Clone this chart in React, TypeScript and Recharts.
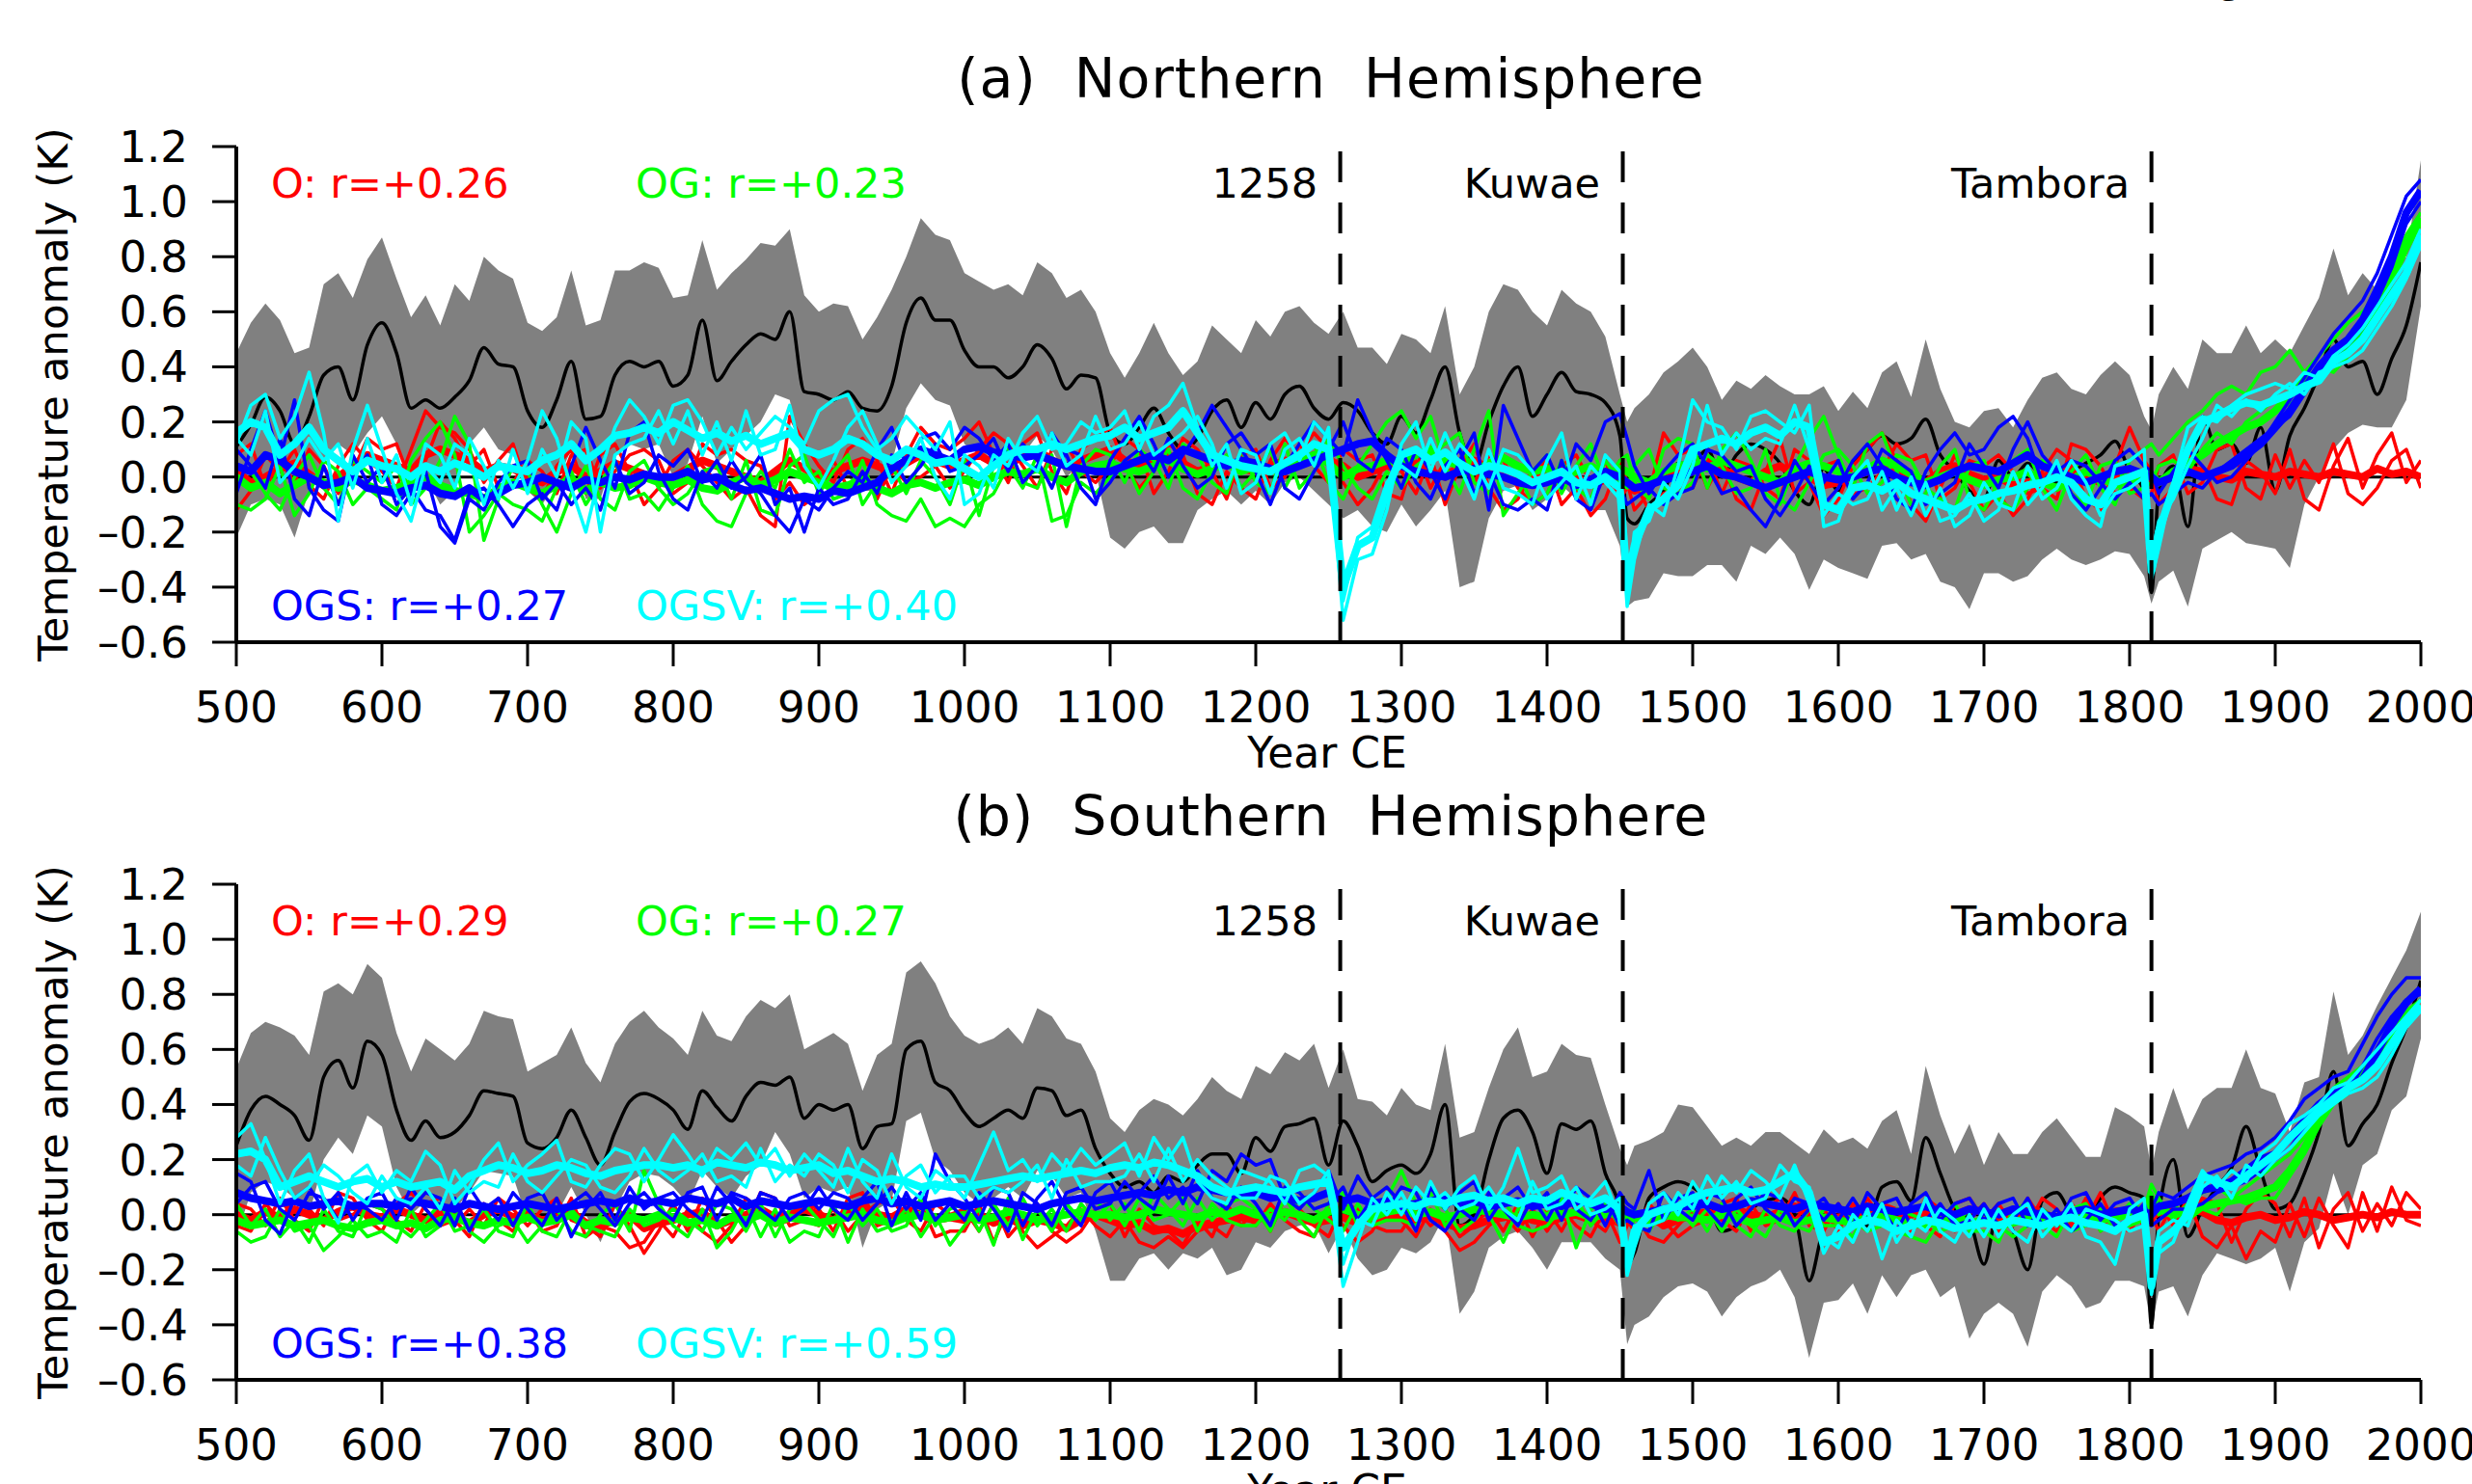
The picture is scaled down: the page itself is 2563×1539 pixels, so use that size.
import React from 'react';
import { ComposedChart, Area, Line, XAxis, YAxis, ReferenceLine } from 'recharts';

// ---------- categories ----------
const YEARS = [
  500, 510, 520, 530, 540, 550, 560, 570, 580, 590,
  600, 610, 620, 630, 640, 650, 660, 670, 680, 690,
  700, 710, 720, 730, 740, 750, 760, 770, 780, 790,
  800, 810, 820, 830, 840, 850, 860, 870, 880, 890,
  900, 910, 920, 930, 940, 950, 960, 970, 980, 990,
  1000, 1010, 1020, 1030, 1040, 1050, 1060, 1070, 1080, 1090,
  1100, 1110, 1120, 1130, 1140, 1150, 1160, 1170, 1180, 1190,
  1200, 1210, 1220, 1230, 1240, 1250, 1260, 1270, 1280, 1290,
  1300, 1310, 1320, 1330, 1340, 1350, 1360, 1370, 1380, 1390,
  1400, 1410, 1420, 1430, 1440, 1450, 1455, 1460, 1470, 1480, 1490,
  1500, 1510, 1520, 1530, 1540, 1550, 1560, 1570, 1580, 1590,
  1600, 1610, 1620, 1630, 1640, 1650, 1660, 1670, 1680, 1690,
  1700, 1710, 1720, 1730, 1740, 1750, 1760, 1770, 1780, 1790,
  1800, 1810, 1815, 1820, 1830, 1840, 1850, 1860, 1870, 1880, 1890,
  1900, 1910, 1920, 1930, 1940, 1950, 1960, 1970, 1980, 1990,
  2000,
];
const X_TICKS = [500, 600, 700, 800, 900, 1000, 1100, 1200, 1300, 1400, 1500, 1600, 1700, 1800, 1900, 2000];
const Y_TICKS = [-0.6, -0.4, -0.2, 0, 0.2, 0.4, 0.6, 0.8, 1.0, 1.2];
const ERUPTIONS = [1258, 1452, 1815];
const ERUPTION_LABELS = ['1258', 'Kuwae', 'Tambora'];

// ---------- (a) Northern Hemisphere, values in hundredths of K ----------
const NH_BLACK = [
  11, 19, 29, 24, 12, 22, 37, 40, 28, 48,
  56, 45, 25, 28, 25, 29, 35, 47, 41, 40,
  24, 18, 28, 42, 21, 22, 37, 42, 40, 42,
  33, 37, 57, 35, 42, 48, 52, 50, 60, 31,
  30, 28, 31, 25, 24, 33, 56, 65, 57, 57,
  46, 40, 40, 36, 40, 48, 43, 32, 37, 36,
  16, 12, 18, 25, 16, 10, 14, 24, 28, 18,
  27, 21, 30, 33, 25, 21, 27, 24, 16, 12,
  22, 16, 28, 40, 16, 4, 20, 33, 40, 22,
  30, 38, 31, 30, 27, 15, -15, -17, -10, -5, 5,
  5, 10, 0, 8, 12, 10, 5, -5, -10, 3,
  -5, 5, 10, 15, 12, 14, 21, 8, 2, -5,
  -8, 6, 0, 5, 0, -2, 2, 5, 8, 13,
  2, -5, -42, -5, 4, -18, 22, 10, 12, 5, 18,
  -5, 15, 25, 37, 50, 40, 42, 30, 43, 55,
  78,
];
const NH_UPPER = [
  45, 56, 63, 57, 45, 47, 70, 74, 65, 79,
  87, 72, 58, 66, 55, 70, 64, 80, 75, 72,
  56, 53, 58, 75, 55, 57, 75, 75, 78, 76,
  65, 66, 86, 68, 74, 79, 85, 84, 90, 66,
  60, 63, 62, 50, 58, 68, 80, 94, 88, 86,
  74, 71, 68, 70, 66, 78, 74, 65, 68, 60,
  45, 36, 45, 56, 45, 37, 42, 55, 50, 45,
  57, 51, 60, 62, 56, 52, 60, 47, 47, 41,
  52, 50, 45, 62, 30, 40, 60, 70, 68, 60,
  55, 68, 63, 60, 51, 30, 20, 25, 30, 38, 42,
  47, 40, 28, 35, 32, 37, 33, 30, 30, 33,
  24, 31, 25, 38, 42, 29, 50, 32, 20, 18,
  24, 25, 18, 28, 36, 38, 32, 30, 37, 42,
  37, 22, 17, 30, 40, 32, 50, 45, 45, 55, 45,
  50, 45, 55, 65, 83, 66, 74, 68, 74, 80,
  115,
];
const NH_LOWER = [
  -22, -10, -8, -10, -22, -5, 5, 12, 8, 16,
  22, 12, -5, 0, -10, -5, 12, 18, 10, 8,
  -5, -10, -2, 10, -8, -8, 8, 12, 10, 12,
  0, 5, 22, 5, 10, 15, 20, 30, 28, 2,
  0, -3, 0, -5, -5, 5, 25, 34, 28, 26,
  12, 8, 8, 5, 8, 15, 10, 0, 5, 2,
  -22, -26, -20, -18, -24, -24, -12, -8, -5, -10,
  -5, -10, -2, 0, -5, -10, -15, -12, -18, -20,
  -10, -18, -12, -5, -40, -38, -15, -5, -3, -12,
  -8, -3, -8, -12, -12, -25, -47, -45, -44, -35, -36,
  -36, -32, -32, -38, -25, -28, -22, -28, -41, -30,
  -33, -35, -37, -25, -24, -30, -28, -38, -40, -48,
  -35, -35, -38, -36, -30, -26, -30, -32, -30, -27,
  -28, -36, -46, -38, -34, -47, -26, -23, -20, -24, -25,
  -26, -33, -10, 0, 10, 16, 19, 18, 18, 28,
  62,
];
const NH_RED_M = [
  2, -2, 0, 3, 5, 1, -3, 0, 4, 8,
  6, 4, 2, 8, 10, 8, 6, 2, 4, 3,
  0, -2, 2, 4, 0, 2, 5, 3, 1, -1,
  0, 3, 6, 4, 2, 0, -2, 2, 6, 3,
  0, 2, 4, 6, 4, 2, 5, 8, 6, 4,
  6, 8, 5, 4, 8, 10, 6, 4, 6, 8,
  10, 6, 4, 6, 8, 5, 2, 4, 6, 3,
  2, 4, 6, 5, 8, 6, 4, 0, 2, 4,
  3, 5, 2, 0, 4, 6, 3, 1, -2, 0,
  2, -2, 0, -3, -1, 0, -2, -5, -2, 0, 3,
  2, 5, 3, 0, -2, 2, 4, 1, 0, -3,
  -2, 0, 2, 5, 3, 0, -2, 2, 4, 1,
  -1, 0, -3, -2, 0, 2, 3, 0, -2, 0,
  2, 0, -1, -2, 0, 3, 2, 0, -1, 2, 1,
  0, 2, 1, 0, 2, 1, 0, 3, 1, 2,
  0,
];
const NH_RED_1 = [
  -12, -5, 8, 2, 10, -3, -8, 4, 12, 6,
  2, -4, 10, 24, 18, 16, 10, -2, 6, 12,
  -4, -8, 4, 10, -6, 8, 12, 2, -10, -4,
  6, 10, 4, -2, -8, -4, -14, -18, 22, 12,
  4, -2, 10, 14, 6, -6, 8, 18, 12, 10,
  14, 20, 8, -2, 12, 16, 2, -6, 10, 14,
  18, 4, -4, 2, 12, 8, -6, -10, 2, -4,
  -8, 6, 14, 8, 16, 10, -2, -10, -4, 6,
  2, -6, 8, -10, 4, 12, -4, -12, -8, 2,
  6, -10, -4, -14, -8, 6, -2, -12, -6, 16, 8,
  10, -4, 6, -8, -12, 2, 14, -6, -2, -14,
  -8, 4, 10, 16, 6, -10, -16, -4, 8, -2,
  -12, -6, -14, -8, 2, 10, 6, -8, -12, 4,
  18, 6, 2, -10, -4, 8, 4, -8, -10, 6, 2,
  -6, 10, -8, -12, 4, 14, -4, 8, 16, -2,
  6,
];
const NH_RED_2 = [
  8, 12, -4, 6, -2, 10, 4, -6, 2, 14,
  10, 12, -2, 6, 20, 14, 4, 10, -4, -2,
  6, 2, -6, 8, 10, -4, 2, 8, 10, 6,
  -6, -2, 12, 8, 10, 6, 4, -8, -2, -10,
  -6, 6, -4, 2, -8, 4, -2, 0, 4, -4,
  2, 10, 16, 12, 4, -4, 10, 12, 2, -2,
  4, 14, 10, -6, 2, 14, 10, 2, -8, 8,
  10, -4, 0, 12, 4, -2, 10, 6, 8, -6,
  -8, 10, -4, 6, 10, -2, 8, 6, -4, -10,
  -6, 4, 8, -2, 6, -8, -4, -2, -12, -6, -4,
  -4, 8, -6, 6, 4, -4, -8, 10, 6, 4,
  6, -6, -4, 2, 12, 6, 8, -8, -4, 6,
  4, 8, 2, -6, -4, -8, 12, 10, 4, -6,
  -4, -8, -6, 4, 8, -6, -2, 10, 12, -4, -8,
  8, -4, 6, -2, 12, -6, -10, -4, 6, 10,
  -4,
];
const NH_GREEN_M = [
  0, -4, -2, -6, -3, 0, -2, -4, -1, -3,
  -5, -4, -2, 0, -3, -5, -6, -8, -4, -2,
  -4, -6, -3, -1, -5, -2, -4, -3, 0, -2,
  -3, -1, -4, -5, -2, 0, -3, -1, 2, 0,
  -2, -4, -3, -1, -4, -6, -3, -2, -4, -2,
  -1, -3, 0, 2, 1, 3, 0, -2, 2, 4,
  5, 3, 2, 4, 6, 3, 1, 3, 5, 2,
  4, 2, 5, 6, 8, 5, 0, 3, 4, 6,
  5, 8, 10, 6, 4, 2, 5, 7, 4, 2,
  3, 0, 2, 4, 1, 3, 2, 0, -2, 2, 4,
  5, 3, 6, 4, 2, 0, -2, 3, 5, 4,
  2, 0, 3, 6, 4, 1, -2, 0, 2, -1,
  -3, -1, 0, 2, -2, -4, -1, 2, 0, -3,
  -1, 0, 1, -2, 2, 5, 8, 12, 15, 18, 20,
  24, 30, 36, 38, 42, 48, 55, 62, 72, 84,
  94,
];
const NH_GREEN_1 = [
  -10, -12, -8, 4, -14, -6, 6, 2, -10, -4,
  -8, -12, 6, 14, 20, 8, -20, -14, -6, -10,
  -12, -16, -4, 2, -10, -2, 6, -8, -6, -12,
  -4, 4, -10, -16, -18, -6, 2, -4, 10, -2,
  2, -8, -6, 6, -10, -14, -16, -8, -18, -15,
  -18, -10, -6, 4, -4, 8, -16, -14, -2, -6,
  0, 6, -6, 2, 10, -4, -8, 2, 8, -4,
  2, 10, -4, 6, 12, -2, -8, 4, 12, 20,
  24, 14, 22, 4, -6, 10, 24, -14, -6, 2,
  8, -6, 4, 12, -2, 6, 8, -2, -8, 10, 14,
  12, -4, 10, 16, 6, -6, -10, 4, 14, 22,
  8, -4, 12, 16, 2, -10, -6, 4, 10, -8,
  -12, -2, 6, 10, -4, -12, 2, 8, -4, -10,
  6, 10, 12, 8, 14, 20, 24, 30, 33, 30, 38,
  40, 46, 38, 44, 50, 56, 60, 66, 76, 88,
  96,
];
const NH_GREEN_2 = [
  4, 2, -6, -12, 0, 8, -4, -10, 6, 2,
  -2, 4, -10, -4, 6, 22, 12, -23, -8, 4,
  2, -10, -20, -6, 4, -8, -12, 2, 6, -4,
  -10, -6, 2, 4, -8, 6, -12, -14, 4, 8,
  -6, 2, 8, -10, -2, 4, -6, 6, 0, -10,
  6, -14, 4, 10, -2, -4, 8, -18, 4, 10,
  8, -2, 10, 6, -4, 12, 8, -2, -6, 10,
  -2, -6, 12, -4, 2, 14, 4, -4, -8, 2,
  -4, 4, 8, 12, 16, -2, -6, 8, 2, -10,
  -6, 6, -4, -8, 6, -2, -4, 4, 10, -4, -6,
  -2, 8, 4, -6, -4, 10, -8, -12, -2, 8,
  10, 4, -6, -2, 8, 6, -4, -8, -12, 4,
  6, -8, -12, -4, 6, 2, -6, -10, 4, 6,
  -6, -4, -2, 4, 6, 2, 10, 16, 12, 20, 24,
  28, 26, 32, 40, 38, 44, 52, 60, 70, 82,
  92,
];
const NH_BLUE_M = [
  4, 2, 8, 6, 2, 0, -3, -2, 0, -4,
  -5, -6, -4, -3, -6, -7, -4, -8, -6, -3,
  -2, 0, -2, -4, -1, -2, 0, -1, 1, 0,
  0, 2, -1, 0, -3, -5, -4, -6, -8, -7,
  -8, -5, -6, -4, -2, 3, 6, 10, 8, 6,
  10, 11, 9, 8, 7, 8, 6, 4, 3, 2,
  2, 4, 6, 8, 6, 10, 8, 6, 4, 6,
  5, 3, 2, 4, 6, 8, 10, 12, 13, 8,
  4, 2, 1, 0, 2, 3, 1, 0, -2, -3,
  -2, 0, -3, -1, 2, 0, -2, -4, -3, -1, 0,
  2, 4, 1, 0, -2, -4, -2, 0, 2, 0,
  -1, 0, 2, 3, 0, -2, -3, -1, 2, 4,
  3, 2, 5, 8, 4, 2, 0, -2, 0, 2,
  3, 1, 0, -2, 0, 2, 0, 2, 4, 8, 12,
  18, 24, 32, 40, 46, 50, 57, 68, 80, 96,
  104,
];
const NH_BLUE_1 = [
  -6, 10, 24, 6, 28, -4, -12, -16, 8, -2,
  4, -10, -4, -12, -14, -23, -6, -4, -10, -18,
  -10, -6, -12, 4, 18, 6, -4, 16, 20, 2,
  -8, -12, 2, -4, 6, -2, -6, -14, -20, -8,
  -12, -4, 2, -2, 10, 18, 4, 14, 16, 10,
  18, 14, 6, 12, -2, 4, 16, 8, -4, -10,
  6, 14, 22, 12, 0, 8, 16, 26, 18, 10,
  2, -10, 4, 12, 20, 14, 8, 28, 16, 6,
  -4, 10, 2, -8, 6, 16, -12, 26, 14, 2,
  8, -4, 12, 6, 20, 23, 14, 4, -6, 2, 8,
  12, 4, -6, -4, -12, -18, -8, 6, -2, -10,
  -4, 6, 12, 4, -8, -12, 2, 10, 16, 8,
  10, 18, 22, 14, -2, 4, -6, -12, -4, 6,
  10, 4, 2, -6, 2, 10, 4, -2, 0, 6, 12,
  20, 28, 36, 44, 52, 58, 64, 74, 88, 102,
  108,
];
const NH_BLUE_2 = [
  10, 4, -4, 14, -8, -14, 4, -10, 2, 8,
  -10, -14, -6, 2, -18, -24, -8, -12, -2, 4,
  6, -8, -2, -10, -4, -12, 6, -6, -2, 8,
  4, 10, -2, 6, -4, 0, 8, -10, -4, -20,
  -4, -10, -8, 2, -6, 8, -2, 4, 12, 2,
  4, 8, 14, 2, 12, 6, -4, 10, 8, -8,
  -2, 6, 10, 2, 14, 4, -4, 0, 12, 16,
  8, 12, -4, -8, 2, 10, 20, 6, 2, 14,
  10, -2, -8, 4, 10, -6, 2, -10, -12, -8,
  -12, 6, -8, -12, 2, -4, -10, -8, -4, -10, -6,
  -4, 10, 8, 2, 4, -8, -14, -6, 4, -2,
  6, -8, -2, 10, 6, 2, -10, -6, -2, 12,
  4, -4, 10, 20, 8, 2, 6, 4, -2, -8,
  -2, -8, -6, -10, -6, -2, -4, 2, 6, 10, 14,
  18, 22, 30, 38, 44, 48, 54, 64, 76, 92,
  100,
];
const NH_CYAN_M = [
  16, 20, 18, 8, 12, 18, 10, 6, 2, 6,
  4, 3, 0, 4, 2, 5, 3, 0, 4, 3,
  2, 6, 8, 12, 6, 10, 15, 16, 18, 16,
  20, 17, 14, 16, 13, 15, 12, 14, 16, 10,
  8, 10, 14, 12, 8, 6, 10, 8, 5, 6,
  3, 0, 4, 8, 10, 10, 12, 10, 12, 14,
  15, 18, 14, 16, 18, 24, 16, 8, 6, 4,
  3, 2, 5, 8, 12, 10, -40, -25, -22, -5,
  8, 10, 6, 9, 5, 2, 4, 3, 1, -2,
  0, 2, -2, -3, 0, -4, -38, -25, -12, -8, -3,
  10, 12, 14, 12, 16, 18, 15, 20, 18, -10,
  -12, -4, -3, -5, -2, -6, -8, -10, -12, -9,
  -8, -6, -5, -3, -2, 0, -2, -8, -10, -2,
  0, 2, -34, -20, -4, 10, 20, 22, 25, 27, 26,
  28, 30, 33, 35, 42, 45, 50, 58, 66, 74,
  88,
];
const NH_CYAN_1 = [
  12, 26, 30, 14, 22, 38, 16, -16, 10, 26,
  10, -6, -16, 4, -2, 12, 8, -10, 6, -4,
  6, 24, 14, -4, -20, 2, 18, 28, 22, 12,
  26, 28, 20, 8, 18, 10, 16, 22, 18, 12,
  24, 28, 30, 18, 10, 14, 22, 16, 10, 20,
  -10, -6, 8, 4, 16, 22, 10, 12, 20, 16,
  18, 24, 10, 22, 26, 34, 18, 4, 12, -6,
  -2, 12, 16, 6, 20, 14, -52, -30, -28, -12,
  12, 20, 2, 16, 4, -8, 10, -4, -6, -10,
  6, 16, -8, 4, -2, -8, -47, -30, -10, -14, 4,
  28, 20, 18, 10, 22, 24, 20, 16, 26, -18,
  -16, 0, 6, -12, -4, -14, -2, -16, -14, -6,
  -16, -12, 2, -10, -4, 6, -8, -14, -18, 4,
  6, 10, -37, -26, -2, 18, 22, 20, 26, 30, 32,
  34, 32, 38, 36, 44, 48, 54, 62, 70, 78,
  90,
];
const NH_CYAN_2 = [
  14, 8, 24, -2, 4, 14, 6, 12, -4, 14,
  -2, 8, -10, 12, 8, -4, 14, 4, -8, 10,
  -6, 10, 0, 20, 14, -20, 8, 12, 14, 24,
  12, 24, 8, 20, 6, 24, 8, 10, 26, 4,
  -4, 6, 18, 24, 12, -2, 4, 14, 0, -8,
  8, 4, -4, 14, 6, 2, 16, 4, 8, 22,
  10, 12, 20, 8, 12, 16, 22, 12, -4, 10,
  8, -6, 10, 14, 4, 18, -45, -22, -18, -2,
  4, 0, 14, 2, 12, 6, -4, 10, 8, 2,
  -8, -2, 4, -10, 8, 2, -42, -20, -16, -2, -8,
  4, 26, 8, 16, 10, 14, 12, 26, 10, -14,
  -6, -10, -8, 2, -12, 0, -14, -4, -18, -14,
  -2, -10, -12, 4, -8, -4, 6, -2, -14, -6,
  -4, 0, -30, -16, -8, 4, 14, 26, 22, 28, 24,
  30, 34, 30, 38, 40, 42, 46, 54, 62, 72,
  84,
];

// ---------- (b) Southern Hemisphere, values in hundredths of K ----------
const SH_BLACK = [
  25, 38, 43, 40, 36, 27, 50, 56, 46, 63,
  58, 38, 27, 34, 28, 30, 36, 45, 44, 43,
  26, 24, 28, 38, 28, 18, 30, 41, 44, 42,
  38, 31, 45, 39, 34, 43, 48, 47, 50, 35,
  40, 38, 40, 24, 32, 33, 60, 63, 48, 45,
  37, 32, 35, 38, 35, 46, 45, 36, 38, 24,
  15, 10, 12, 8, 14, 12, 18, 22, 22, 15,
  28, 23, 32, 33, 35, 18, 34, 25, 12, 16,
  18, 15, 22, 40, -4, 0, 20, 35, 38, 30,
  15, 33, 31, 34, 15, 2, -18, -14, 6, 10, 12,
  10, 5, -6, -4, 2, 5, 6, 0, -24, -5,
  0, -2, -4, 10, 12, 5, 28, 15, 2, -2,
  -18, 2, -6, -20, 5, 8, 0, -4, 6, 10,
  8, 6, -40, 0, 20, -8, 2, 10, 17, 32, 16,
  2, 4, 15, 30, 52, 25, 33, 40, 55, 68,
  85,
];
const SH_UPPER = [
  53, 66, 70, 68, 65, 58, 81, 84, 80, 91,
  86, 66, 52, 64, 60, 56, 62, 74, 72, 71,
  52, 55, 58, 68, 55, 48, 62, 70, 74, 68,
  64, 58, 74, 65, 63, 72, 78, 75, 80, 60,
  63, 66, 62, 45, 58, 62, 88, 92, 84, 72,
  65, 62, 64, 68, 62, 75, 72, 64, 62, 52,
  35, 30, 38, 42, 40, 36, 42, 50, 45, 42,
  54, 51, 59, 56, 62, 46, 60, 42, 41, 36,
  46, 40, 38, 62, 28, 30, 46, 60, 68, 50,
  52, 62, 58, 57, 40, 24, 18, 25, 27, 30, 40,
  39, 32, 25, 28, 25, 30, 30, 26, 22, 31,
  26, 28, 24, 34, 38, 22, 54, 36, 22, 33,
  18, 30, 22, 22, 30, 35, 28, 21, 21, 39,
  36, 32, 16, 30, 46, 31, 42, 46, 46, 60, 46,
  44, 30, 48, 50, 81, 58, 65, 76, 86, 96,
  110,
];
const SH_LOWER = [
  -8, 8, 12, 10, 6, 0, 20, 28, 22, 36,
  32, 10, 0, 5, 0, 2, 8, 16, 15, 14,
  -2, -4, 0, 10, 0, -10, 2, 12, 15, 14,
  10, 4, 16, 10, 6, 14, 18, 30, 22, 6,
  10, 8, 10, -12, 2, 5, 34, 37, 20, 16,
  8, 4, 6, 10, 6, 16, 14, 6, 8, -6,
  -24, -24, -16, -14, -20, -14, -16, -12, -22, -20,
  -10, -12, -6, -4, -3, -14, -4, -16, -22, -20,
  -12, -14, -10, 0, -36, -28, -12, -8, -6, -12,
  -20, -10, -10, -10, -16, -20, -47, -40, -37, -30, -26,
  -25, -28, -37, -30, -26, -24, -20, -30, -52, -32,
  -31, -25, -36, -22, -30, -22, -20, -30, -26, -45,
  -36, -32, -36, -48, -28, -22, -26, -34, -32, -24,
  -24, -26, -41, -28, -26, -37, -22, -14, -16, -18, -16,
  -12, -28, -10, -5, 15, 0, 18, 22, 38, 43,
  64,
];
const SH_RED_M = [
  0, -2, 1, -1, 2, 0, -2, 1, 3, 0,
  -1, 2, 0, -2, 1, -1, -3, 0, 2, -1,
  0, -2, -1, 1, -3, -4, -2, 0, -5, -3,
  -2, 0, 1, -4, -2, 0, 2, -1, 0, 2,
  0, -2, 1, 3, 0, -1, 2, 0, -2, -1,
  -2, 0, -3, -1, -4, -2, -3, -5, -2, 0,
  -2, -4, -3, -6, -5, -7, -4, -3, -2, -1,
  -2, 0, 1, -1, -3, -2, -1, -3, -2, 0,
  -1, -2, 0, -3, -5, -4, -2, -1, 0, -2,
  -3, -1, 0, -2, -1, -3, -2, -1, 0, -4, -2,
  0, 1, -1, 2, 0, -1, 1, 3, 0, -2,
  -1, 0, 2, 1, -2, 0, 1, -1, 0, 2,
  1, -1, 0, 2, 1, -2, 0, 1, 2, 0,
  -1, 0, -1, 1, 0, 2, 1, -2, -3, -1, 0,
  -2, -1, 1, 0, -2, -1, 0, -1, 1, 0,
  0,
];
const SH_RED_1 = [
  -4, -6, 4, -2, 6, 2, -4, 8, 6, -2,
  -6, 4, 8, 2, -4, -2, -8, 4, -2, -6,
  2, -6, -4, 6, -8, -4, -6, -12, -10, -2,
  -8, 2, -6, -10, -4, 6, 2, -4, -2, 4,
  2, -6, 6, 8, -4, -2, 0, 4, -8, -6,
  -6, 4, -10, 2, -6, -12, -8, -4, 2, -4,
  -8, -2, -10, -12, -8, -12, -6, -4, -8, 2,
  -4, 4, -2, -6, -8, 2, -4, -10, -6, 4,
  -2, -8, 2, -6, -13, -10, -4, 0, -6, 2,
  -6, 2, -4, -8, 2, -10, -4, 0, -8, -10, -4,
  2, 6, -2, -6, 4, -4, -2, 8, -4, -6,
  4, -4, 6, -2, -6, 2, -4, -8, 4, 6,
  -2, 4, -4, 6, -2, -6, 4, -2, 8, -4,
  -6, 2, -2, 4, -4, 6, -8, -12, -4, -16, -6,
  -10, 4, -8, 6, -4, -12, 8, -6, 10, -2,
  -4,
];
const SH_RED_2 = [
  4, 2, -4, 6, -2, -6, 6, -2, 0, 4,
  2, -2, -6, 4, 6, -4, 2, -4, 6, 2,
  -4, 2, 6, -2, -4, -8, 4, -4, -14, -6,
  4, -6, 6, -2, -10, -4, 8, 6, -4, -2,
  -4, 2, -6, 0, 4, 6, -2, -6, 4, 0,
  2, -6, 4, -8, -2, 4, -6, -10, -6, 2,
  4, -8, 2, -4, -6, -11, -2, -8, 4, -4,
  2, -6, 6, 2, -4, -8, 4, 2, -4, -6,
  -6, 2, -4, 0, -8, -4, 2, -6, 4, -8,
  2, -6, 4, -2, -6, 4, -2, -6, 4, -2, -8,
  -4, -2, 4, 6, -6, 2, 6, -2, 4, 2,
  -6, 4, -2, 4, 2, -6, 6, 2, -6, -2,
  4, -6, 2, -4, 6, 2, -4, 6, -6, 2,
  2, -4, 0, -6, 4, -2, 6, 4, -10, 2, 8,
  4, -8, 6, -12, 2, 8, -6, 4, -4, 8,
  2,
];
const SH_GREEN_M = [
  -2, -4, -3, -2, -4, -3, -2, -4, -5, -3,
  -2, -4, -3, -5, -2, -1, -3, -4, -2, -3,
  -1, -3, -2, 0, -4, -2, -3, -1, -2, 0,
  -1, -3, -2, -4, -1, -2, 0, -3, -1, -2,
  -3, -2, -1, 0, -2, -3, -1, 0, -2, -1,
  0, -2, -1, 1, 0, -2, -1, 0, 1, 0,
  0, -1, 0, 2, 1, 0, -1, 1, 0, 2,
  0, -1, 1, 0, -2, 1, 2, 0, -1, 1,
  2, 0, 1, -1, 0, 2, 1, 0, -1, 0,
  -1, 0, 1, -1, 0, 1, 0, -1, -2, 0, -1,
  -1, -2, 0, -1, -3, -2, -1, -3, -2, -1,
  -2, -3, -1, 0, -2, -3, -4, -2, -1, -3,
  -2, -4, -3, -1, -2, -3, -1, 0, -2, -1,
  0, 1, 6, 2, 0, 1, 3, 4, 5, 6, 8,
  10, 16, 24, 34, 44, 47, 52, 58, 66, 72,
  76,
];
const SH_GREEN_1 = [
  -6, -10, -8, 2, -6, -4, -13, -8, -2, -8,
  -6, -10, 2, -8, -4, 2, -6, -10, -4, -2,
  -10, -4, 2, -6, -8, 0, 4, -6, 16, 4,
  -4, -8, 2, -12, -6, 4, -8, 2, -10, -6,
  -8, 4, -10, 2, -6, -4, 2, -8, 0, -11,
  -4, 2, -11, 6, -9, 2, -6, 4, -2, 6,
  -2, 4, -6, 8, 2, -4, 6, -2, 4, 6,
  2, -6, 6, -2, -8, 4, 8, -4, 2, 6,
  16, 4, 8, -4, 2, 6, 0, -10, 2, 4,
  0, 6, -12, 2, 4, -4, 2, -4, -6, 2, -2,
  2, -6, 4, -4, -8, 2, -4, -6, 2, -4,
  -4, -8, 2, 4, -6, -8, -10, -2, 4, -6,
  -6, -10, 2, 4, -4, -8, 2, 4, -6, -2,
  4, 2, 11, 6, -2, 4, 8, 10, 6, 10, 14,
  18, 22, 28, 38, 46, 50, 54, 60, 68, 74,
  78,
];
const SH_GREEN_2 = [
  4, -4, 2, -8, -2, -10, 2, -6, -8, 4,
  2, -4, -8, -2, 4, -6, -4, 2, -6, -8,
  4, -6, -8, 2, -4, -6, -8, 2, -4, -2,
  2, -2, -6, 4, 2, -6, 4, -8, 2, 4,
  -2, -8, 4, -4, 2, -6, -4, 6, -4, 2,
  4, -6, 4, -4, 6, -4, 2, -6, 4, -2,
  4, -4, 6, -2, 0, 6, -6, 4, -2, -4,
  -4, 2, -2, 6, 2, -2, -6, 4, -4, -2,
  -2, -4, 6, 2, -6, -2, 4, 6, -4, -6,
  -4, 2, 6, -4, 2, 6, -2, 2, -4, -2, 2,
  -4, 2, -6, 2, -4, -8, 2, -4, -6, 2,
  2, -2, -6, -4, 2, 0, -2, -6, -4, 2,
  2, -4, -8, -4, 2, -2, -6, -4, 2, -4,
  -4, -2, 8, 0, 4, -2, 2, 0, 6, 4, 6,
  6, 14, 22, 32, 40, 44, 50, 56, 64, 70,
  74,
];
const SH_BLUE_M = [
  8, 6, 5, 4, 5, 3, 4, 5, 3, 4,
  4, 3, 5, 4, 3, 2, 4, 3, 2, 3,
  4, 3, 2, 3, 4, 5, 4, 6, 4, 5,
  4, 6, 5, 4, 6, 3, 5, 4, 3, 4,
  5, 4, 3, 5, 6, 4, 5, 3, 4, 5,
  3, 4, 5, 4, 3, 2, 4, 5, 6, 5,
  6, 7, 8, 7, 9, 8, 10, 9, 8, 7,
  8, 6, 7, 5, 6, 8, 5, 6, 4, 5,
  3, 4, 5, 6, 4, 5, 3, 4, 5, 3,
  4, 3, 5, 4, 2, 3, 1, 0, 1, 2, 3,
  3, 4, 2, 3, 5, 4, 3, 2, 4, 3,
  2, 1, 3, 2, 1, 2, 3, 1, 0, 2,
  1, 0, 2, 1, 0, -1, 1, 2, 0, 1,
  2, 1, 0, 3, 4, 6, 9, 10, 12, 16, 20,
  22, 28, 34, 40, 44, 47, 49, 59, 69, 77,
  82,
];
const SH_BLUE_1 = [
  15, 12, -2, -7, 6, 10, 2, 8, -2, 6,
  8, -2, 10, 2, -4, 6, -6, 4, -2, 8,
  2, -4, 6, -8, 2, 8, -2, 10, 2, 6,
  8, 2, -2, 10, 4, -4, 8, 6, -2, 2,
  10, 2, -2, 6, 12, -4, 8, -2, 22, 12,
  6, -2, 10, 8, -4, 6, 12, 2, -4, 8,
  12, 2, 8, 14, 6, 10, 4, 16, 12, 22,
  18, 20, 6, 2, 8, 16, 2, 14, 6, 10,
  4, -6, 10, 2, 8, 12, -2, 6, 10, 2,
  8, -2, 10, 6, -4, 8, 4, 2, 16, -2, 6,
  8, 2, -4, 6, 10, 2, -2, 6, 4, -2,
  4, -4, 8, 2, -6, 4, 8, -2, 4, 6,
  -2, 4, 6, -4, 2, -4, 6, 8, -2, 4,
  6, -2, 2, 8, 6, 10, 14, 16, 18, 22, 24,
  28, 34, 42, 46, 50, 52, 62, 72, 80, 86,
  86,
];
const SH_BLUE_2 = [
  4, 10, 12, 2, -2, 8, 6, -2, 4, 2,
  -2, 6, 2, 8, 6, -4, 10, 2, 6, -4,
  6, 8, -2, 4, 8, 2, -4, 4, 8, 2,
  -2, 8, 10, -2, 8, 6, 2, -2, 6, 8,
  2, 8, 6, -2, 4, 10, 2, 8, -2, 4,
  -2, 8, 2, -6, 8, 4, -4, 8, 10, 2,
  4, 12, 6, 2, 14, 4, 16, 6, 2, 10,
  4, -4, 10, 8, 2, 4, 10, -2, 6, 2,
  10, 8, -2, -6, 2, -2, 8, 2, -4, 6,
  -2, 8, 2, -2, 6, -4, -2, -4, -6, 8, 2,
  -2, 8, 6, -4, 2, 8, 6, -4, 2, 6,
  -2, 6, -2, 4, 6, -4, -2, 4, -4, -2,
  4, -4, -2, 6, -4, 2, -6, -2, 4, -4,
  -2, 4, -4, -2, 2, 2, 4, 8, 10, 12, 16,
  20, 24, 32, 38, 42, 44, 54, 64, 72, 78,
  80,
];
const SH_CYAN_M = [
  22, 23, 20, 10, 12, 14, 12, 10, 12, 13,
  10, 12, 10, 11, 12, 9, 14, 16, 18, 17,
  15, 16, 18, 17, 15, 14, 16, 17, 18, 18,
  17, 18, 16, 19, 18, 17, 19, 18, 16, 17,
  18, 15, 16, 14, 12, 13, 12, 10, 11, 10,
  10, 11, 12, 13, 14, 13, 14, 15, 16, 15,
  17, 18, 17, 19, 18, 16, 14, 10, 8, 9,
  10, 9, 8, 10, 11, 12, -12, -4, 2, 3,
  4, 3, 5, 4, 6, 7, 5, 6, 4, 6,
  5, 8, 6, 4, 6, 2, -18, -6, 0, 2, 3,
  6, 8, 9, 10, 8, 9, 12, 15, 8, -10,
  -8, -4, -2, -3, -6, -4, -2, -3, -5, -4,
  -3, -4, -2, -3, -4, -2, -1, -3, -4, -6,
  -2, 0, -26, -10, -6, 0, 14, 12, 10, 14, 18,
  22, 28, 33, 38, 42, 46, 49, 54, 62, 70,
  76,
];
const SH_CYAN_1 = [
  28, 33, 20, 4, 16, 22, 6, -3, 14, 18,
  8, 16, 12, 23, 18, 4, 10, 20, 26, 12,
  18, 22, 27, 12, 10, 18, 24, 22, 12, 20,
  29, 22, 14, 24, 20, 26, 18, 24, 14, 22,
  16, 10, 24, 12, 6, 22, 10, 6, 16, 12,
  6, 18, 30, 16, 20, 12, 22, 16, 24, 18,
  22, 26, 14, 28, 20, 28, 12, 6, 4, 16,
  14, 12, 4, 16, 18, 14, -26, -10, 6, 0,
  8, -2, 12, 2, 10, 14, 2, 10, 24, 8,
  10, 14, 2, 6, 12, -2, -22, -12, 4, 8, 0,
  12, 4, 14, 8, 16, 12, 6, 18, 4, -14,
  -4, -10, 2, -16, -2, -8, 6, -6, -10, 0,
  -8, 2, -6, -10, 2, -4, 4, -8, -10, -18,
  2, 6, -29, -14, -10, 4, 16, 10, 16, 12, 22,
  26, 33, 36, 40, 46, 48, 54, 60, 66, 72,
  78,
];
const SH_CYAN_2 = [
  18, 14, 28, 16, 6, 10, 18, 14, 8, 4,
  14, 6, 4, 10, 2, 16, 8, 12, 10, 22,
  12, 8, 14, 20, 18, 10, 8, 14, 24, 16,
  12, 16, 22, 12, 14, 10, 24, 12, 18, 14,
  22, 18, 8, 20, 16, 4, 14, 18, 8, 14,
  14, 6, 10, 8, 12, 18, 6, 20, 10, 12,
  12, 14, 22, 12, 24, 12, 20, 14, 10, 6,
  6, 14, 12, 4, 8, 16, -18, -2, -4, 8,
  0, 10, 4, 8, 2, 4, 10, 2, -2, 12,
  2, 4, 10, 0, 2, 6, -14, -4, -4, -2, 8,
  2, 14, 6, 12, 4, 6, 18, 12, 10, -8,
  -12, 0, -6, 4, -10, -2, -6, 2, -2, -8,
  2, -8, 0, 4, -8, -2, -6, 2, 0, -2,
  -6, -4, -22, -6, -2, -4, 10, 14, 6, 18, 14,
  20, 24, 30, 36, 40, 44, 46, 50, 58, 68,
  74,
];

// ---------- styles ----------
const FONT = "'DejaVu Sans', Verdana, sans-serif";
const RED = '#ff0000';
const GREEN = '#00ff00';
const BLUE = '#0000ff';
const CYAN = '#00ffff';
const GRAY = '#808080';
const THIN = 3.5;
const THICK = 8;

const NH_SERIES = [
  { key: 'r1', data: NH_RED_1, color: RED, w: THIN },
  { key: 'r2', data: NH_RED_2, color: RED, w: THIN },
  { key: 'r0', data: NH_RED_M, color: RED, w: THICK },
  { key: 'g1', data: NH_GREEN_1, color: GREEN, w: THIN },
  { key: 'g2', data: NH_GREEN_2, color: GREEN, w: THIN },
  { key: 'g0', data: NH_GREEN_M, color: GREEN, w: THICK },
  { key: 'b1', data: NH_BLUE_1, color: BLUE, w: THIN },
  { key: 'b2', data: NH_BLUE_2, color: BLUE, w: THIN },
  { key: 'b0', data: NH_BLUE_M, color: BLUE, w: THICK },
  { key: 'c1', data: NH_CYAN_1, color: CYAN, w: THIN },
  { key: 'c2', data: NH_CYAN_2, color: CYAN, w: THIN },
  { key: 'c0', data: NH_CYAN_M, color: CYAN, w: THICK },
];
const SH_SERIES = [
  { key: 'r1', data: SH_RED_1, color: RED, w: THIN },
  { key: 'r2', data: SH_RED_2, color: RED, w: THIN },
  { key: 'r0', data: SH_RED_M, color: RED, w: THICK },
  { key: 'g1', data: SH_GREEN_1, color: GREEN, w: THIN },
  { key: 'g2', data: SH_GREEN_2, color: GREEN, w: THIN },
  { key: 'g0', data: SH_GREEN_M, color: GREEN, w: THICK },
  { key: 'b1', data: SH_BLUE_1, color: BLUE, w: THIN },
  { key: 'b2', data: SH_BLUE_2, color: BLUE, w: THIN },
  { key: 'b0', data: SH_BLUE_M, color: BLUE, w: THICK },
  { key: 'c1', data: SH_CYAN_1, color: CYAN, w: THIN },
  { key: 'c2', data: SH_CYAN_2, color: CYAN, w: THIN },
  { key: 'c0', data: SH_CYAN_M, color: CYAN, w: THICK },
];

const PANELS = [
  {
    top: 0,
    title: '(a) Northern Hemisphere',
    black: NH_BLACK, upper: NH_UPPER, lower: NH_LOWER, series: NH_SERIES,
    r: ['+0.26', '+0.23', '+0.27', '+0.40'],
  },
  {
    top: 765,
    title: '(b) Southern Hemisphere',
    black: SH_BLACK, upper: SH_UPPER, lower: SH_LOWER, series: SH_SERIES,
    r: ['+0.29', '+0.27', '+0.38', '+0.59'],
  },
];

const fmtY = (v: number) => {
  const s = Math.abs(v).toFixed(1);
  return v < -1e-9 ? '\u2013' + s : s;
};
const EmptyTick = () => <g />;
const TICK_STYLE = { fontSize: 45, fontFamily: FONT, fill: '#000' };
const AXIS_LINE = { stroke: '#000', strokeWidth: 4 };
const TICK_LINE = { stroke: '#000', strokeWidth: 3 };

function buildRows(p: any) {
  return YEARS.map((year, i) => {
    const row: any = {
      year,
      band: [p.lower[i] / 100, p.upper[i] / 100],
      black: p.black[i] / 100,
    };
    p.series.forEach((s: any) => {
      row[s.key] = s.data[i] / 100;
    });
    return row;
  });
}

function Panel({ p, showG }: { p: any; showG: boolean }) {
  const rows = buildRows(p);
  const txt = { fontFamily: FONT } as const;
  return (
    <div style={{ position: 'absolute', left: 0, top: p.top, width: 2563, height: 800 }}>
      <ComposedChart width={2563} height={800} data={rows} margin={{ top: 152, right: 53, bottom: 44, left: 0 }}>
        <XAxis
          dataKey="year" type="number" domain={[500, 2000]} ticks={X_TICKS} interval={0}
          allowDataOverflow height={90} tickSize={25} tickMargin={26}
          tick={TICK_STYLE} axisLine={AXIS_LINE} tickLine={TICK_LINE}
        />
        <XAxis
          xAxisId="top" orientation="top" dataKey="year" type="number" domain={[500, 2000]}
          ticks={X_TICKS} interval={0} allowDataOverflow height={0} tickSize={25}
          tick={EmptyTick} axisLine={AXIS_LINE} tickLine={TICK_LINE}
        />
        <YAxis
          type="number" domain={[-0.6, 1.2]} ticks={Y_TICKS} interval={0} allowDataOverflow
          width={245} tickSize={25} tickMargin={25} tick={TICK_STYLE} tickFormatter={fmtY}
          axisLine={AXIS_LINE} tickLine={TICK_LINE}
        />
        <YAxis
          yAxisId="right" orientation="right" type="number" domain={[-0.6, 1.2]} ticks={Y_TICKS}
          interval={0} allowDataOverflow width={0} tickSize={25} tick={EmptyTick}
          axisLine={AXIS_LINE} tickLine={TICK_LINE}
        />
        <Area
          type="linear" dataKey="band" fill={GRAY} fillOpacity={1} stroke="none"
          isAnimationActive={false} activeDot={false} dot={false}
        />
        <ReferenceLine y={0} stroke="#000" strokeWidth={3} />
        <Line
          type="monotone" dataKey="black" stroke="#000" strokeWidth={3.5} dot={false}
          activeDot={false} isAnimationActive={false}
        />
        {p.series.map((s: any) => (
          <Line
            key={s.key} type="linear" dataKey={s.key} stroke={s.color} strokeWidth={s.w}
            dot={false} activeDot={false} isAnimationActive={false} strokeLinejoin="round"
          />
        ))}
        {ERUPTIONS.map((yr) => (
          <ReferenceLine key={yr} x={yr} stroke="#000" strokeWidth={4} strokeDasharray="32 21" />
        ))}
      </ComposedChart>
      <svg
        width={2563} height={800}
        style={{ position: 'absolute', left: 0, top: 0, pointerEvents: 'none', overflow: 'visible' }}
      >
        {showG && (
          <text x={2300} y={-8} fontFamily="'Liberation Serif', serif" fontSize={44} fill="#000">g</text>
        )}
        <text x={1380} y={101} textAnchor="middle" fontSize={57} letterSpacing={1} wordSpacing={20} fill="#000" {...txt}>
          {p.title}
        </text>
        <text transform="translate(70,409) rotate(-90)" textAnchor="middle" fontSize={43.5} fill="#000" {...txt}>
          Temperature anomaly (K)
        </text>
        <text x={1376} y={796} textAnchor="middle" fontSize={44} fill="#000" {...txt}>Year CE</text>
        <text x={281} y={205} fontSize={43} fill={RED} {...txt}>{'O: r=' + p.r[0]}</text>
        <text x={659} y={205} fontSize={43} fill={GREEN} {...txt}>{'OG: r=' + p.r[1]}</text>
        <text x={281} y={643} fontSize={43} fill={BLUE} {...txt}>{'OGS: r=' + p.r[2]}</text>
        <text x={659} y={643} fontSize={43} fill={CYAN} {...txt}>{'OGSV: r=' + p.r[3]}</text>
        <text x={1366} y={205} textAnchor="end" fontSize={43} fill="#000" {...txt}>{ERUPTION_LABELS[0]}</text>
        <text x={1659} y={205} textAnchor="end" fontSize={43} fill="#000" {...txt}>{ERUPTION_LABELS[1]}</text>
        <text x={2208} y={205} textAnchor="end" fontSize={43} fill="#000" {...txt}>{ERUPTION_LABELS[2]}</text>
      </svg>
    </div>
  );
}

export default function App() {
  return (
    <div
      style={{
        position: 'fixed', left: 0, top: 0, width: 2563, height: 1539,
        overflow: 'hidden', background: '#fff',
      }}
    >
      <Panel p={PANELS[0]} showG={true} />
      <Panel p={PANELS[1]} showG={false} />
    </div>
  );
}
